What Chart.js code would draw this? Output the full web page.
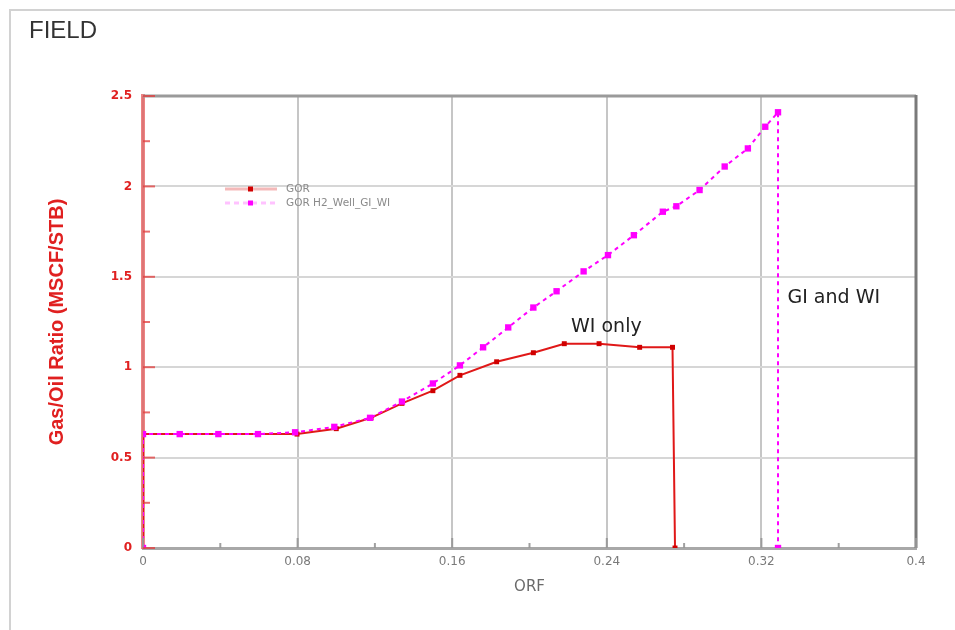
<!DOCTYPE html>
<html>
<head>
<meta charset="utf-8">
<script src="https://cdn.jsdelivr.net/npm/chart.js@4.4.1/dist/chart.umd.min.js"></script>
<style>
  html, body { margin: 0; padding: 0; background: #fff; }
  #wrap { width: 955px; height: 630px; position: relative; }
</style>
</head>
<body>
<div id="wrap"><canvas id="gorChart" width="955" height="630"></canvas></div>
<script>
// recovery factor (x) vs gas/oil ratio (y)
const gorOrf = [0, 0, 0.019, 0.039, 0.0595, 0.0797, 0.100, 0.118, 0.134, 0.150, 0.164, 0.183, 0.202, 0.218, 0.236, 0.257, 0.274, 0.2753];
const gorVal = [0, 0.63, 0.63, 0.63, 0.63, 0.63, 0.66, 0.72, 0.80, 0.87, 0.955, 1.03, 1.08, 1.13, 1.13, 1.11, 1.11, 0];

const giwiOrf = [0, 0, 0.019, 0.039, 0.0595, 0.0787, 0.099, 0.1175, 0.134, 0.150, 0.164, 0.176, 0.189, 0.202, 0.214, 0.228, 0.2406, 0.254, 0.269, 0.276, 0.288, 0.301, 0.313, 0.322, 0.3286, 0.3286];
const giwiVal = [0, 0.63, 0.63, 0.63, 0.63, 0.64, 0.67, 0.72, 0.81, 0.91, 1.01, 1.11, 1.22, 1.33, 1.42, 1.53, 1.62, 1.73, 1.86, 1.89, 1.98, 2.11, 2.21, 2.33, 2.41, 0];

const seriesNames = ['GOR', 'GOR H2_Well_GI_WI'];
const xTicks = [0, 0.08, 0.16, 0.24, 0.32, 0.4];
const yTicks = [0, 0.5, 1, 1.5, 2, 2.5];

// text notes placed in data units
const notes = [
  { text: 'WI only', x: 0.2215, y: 1.22 },
  { text: 'GI and WI', x: 0.3335, y: 1.38 }
];

const toPts = (xs, ys) => xs.map((x, i) => ({ x: x, y: ys[i] }));

const RED = '#e01818';
const MAGENTA = '#ff00ff';

const extras = {
  id: 'extras',
  beforeDraw(chart) {
    const c = chart.ctx;
    c.save();
    c.fillStyle = '#fff';
    c.fillRect(0, 0, chart.width, chart.height);
    // outer frame
    c.strokeStyle = '#d2d2d2';
    c.lineWidth = 2;
    c.beginPath();
    c.moveTo(10, chart.height);
    c.lineTo(10, 10);
    c.lineTo(chart.width, 10);
    c.stroke();
    c.fillStyle = '#333';
    c.font = '24px "Liberation Sans", Arial, sans-serif';
    c.textBaseline = 'middle';
    c.fillText('FIELD', 29, 31);
    c.restore();
  },
  afterDraw(chart) {
    const c = chart.ctx;
    const a = chart.chartArea;
    const xs = chart.scales.x, ys = chart.scales.y;
    c.save();
    // top and right frame of the plot
    c.strokeStyle = '#9a9a9a';
    c.lineWidth = 3;
    c.beginPath();
    c.moveTo(a.left, a.top);
    c.lineTo(a.right, a.top);
    c.stroke();
    c.strokeStyle = '#7a7a7a';
    c.beginPath();
    c.moveTo(a.right, a.top - 1);
    c.lineTo(a.right, a.bottom);
    c.stroke();

    // inner tick marks, major and minor
    c.lineWidth = 2;
    c.strokeStyle = 'rgba(150,150,150,0.9)';
    for (let v = 0; v <= 0.4001; v += 0.04) {
      const px = xs.getPixelForValue(v);
      const major = Math.round(v / 0.04) % 2 === 0;
      c.beginPath();
      c.moveTo(px, a.bottom);
      c.lineTo(px, a.bottom - (major ? 10 : 5));
      c.stroke();
    }
    c.strokeStyle = 'rgba(225,60,60,0.75)';
    for (let v = 0; v <= 2.5001; v += 0.25) {
      const py = ys.getPixelForValue(v);
      const major = Math.round(v / 0.25) % 2 === 0;
      c.beginPath();
      c.moveTo(a.left, py);
      c.lineTo(a.left + (major ? 12 : 7), py);
      c.stroke();
    }

    // legend inside the plot
    const lx = 225, ly = 189;
    const ds = chart.data.datasets;
    c.font = '10.5px "DejaVu Sans", sans-serif';
    c.textBaseline = 'middle';
    ds.forEach((d, i) => {
      const y = ly + i * 14;
      c.lineWidth = 3;
      c.strokeStyle = i === 0 ? 'rgba(230,100,100,0.45)' : 'rgba(255,80,255,0.35)';
      c.setLineDash(i === 0 ? [] : [5, 4]);
      c.beginPath();
      c.moveTo(lx, y);
      c.lineTo(lx + 52, y);
      c.stroke();
      c.setLineDash([]);
      c.fillStyle = d.pointBackgroundColor;
      c.fillRect(lx + 23, y - 2.5, 5, 5);
      c.fillStyle = '#8a8a8a';
      c.fillText(d.label, lx + 61, y);
    });

    // notes
    c.fillStyle = '#222';
    c.font = '19px "DejaVu Sans", Verdana, sans-serif';
    c.textBaseline = 'middle';
    notes.forEach(n => {
      c.fillText(n.text, xs.getPixelForValue(n.x), ys.getPixelForValue(n.y));
    });
    c.restore();
  }
};

const ctx = document.getElementById('gorChart');
new Chart(ctx, {
  type: 'scatter',
  data: {
    datasets: [
      {
        label: seriesNames[0],
        data: toPts(gorOrf, gorVal),
        showLine: true,
        borderColor: RED,
        borderWidth: 2,
        pointStyle: 'rect',
        pointRadius: 3.5,
        pointBackgroundColor: '#d00000',
        pointBorderWidth: 0,
        order: 2
      },
      {
        label: seriesNames[1],
        data: toPts(giwiOrf, giwiVal),
        showLine: true,
        borderColor: MAGENTA,
        borderWidth: 2,
        borderDash: [4, 4],
        pointStyle: 'rect',
        pointRadius: 4.5,
        pointBackgroundColor: MAGENTA,
        pointBorderWidth: 0,
        order: 1
      }
    ]
  },
  options: {
    responsive: false,
    animation: false,
    events: [],
    layout: { padding: { left: 45, top: 96, right: 39, bottom: 34 } },
    plugins: { legend: { display: false }, tooltip: { enabled: false } },
    scales: {
      x: {
        type: 'linear',
        min: 0,
        max: 0.4,
        afterBuildTicks: s => { s.ticks = xTicks.map(v => ({ value: v })); },
        afterFit: s => { s.height = 48; },
        ticks: {
          color: '#7a7a7a',
          font: { size: 12, family: '"DejaVu Sans", Verdana, sans-serif' },
          padding: 7,
          callback: v => String(+v.toFixed(2))
        },
        grid: { color: '#c6c6c6', lineWidth: 2, drawTicks: false },
        border: { color: '#a8a8a8', width: 3 },
        title: {
          display: true,
          text: 'ORF',
          color: '#6a6a6a',
          font: { size: 15, family: '"DejaVu Sans", Verdana, sans-serif' },
          padding: 0
        }
      },
      y: {
        type: 'linear',
        min: 0,
        max: 2.5,
        afterBuildTicks: s => { s.ticks = yTicks.map(v => ({ value: v })); },
        afterFit: s => { s.width = 98; },
        ticks: {
          color: '#e02020',
          font: { size: 12, weight: 'bold', family: '"DejaVu Sans", Verdana, sans-serif' },
          padding: 11,
          callback: v => String(+v.toFixed(2))
        },
        grid: { color: '#d6d6d6', lineWidth: 2, drawTicks: false },
        border: { color: 'rgba(230,90,90,0.75)', width: 4 },
        title: {
          display: true,
          text: 'Gas/Oil Ratio (MSCF/STB)',
          color: '#e02020',
          font: { size: 20, weight: 'bold', family: '"Liberation Sans", Arial, sans-serif' },
          padding: 0
        }
      }
    }
  },
  plugins: [extras]
});
</script>
</body>
</html>
